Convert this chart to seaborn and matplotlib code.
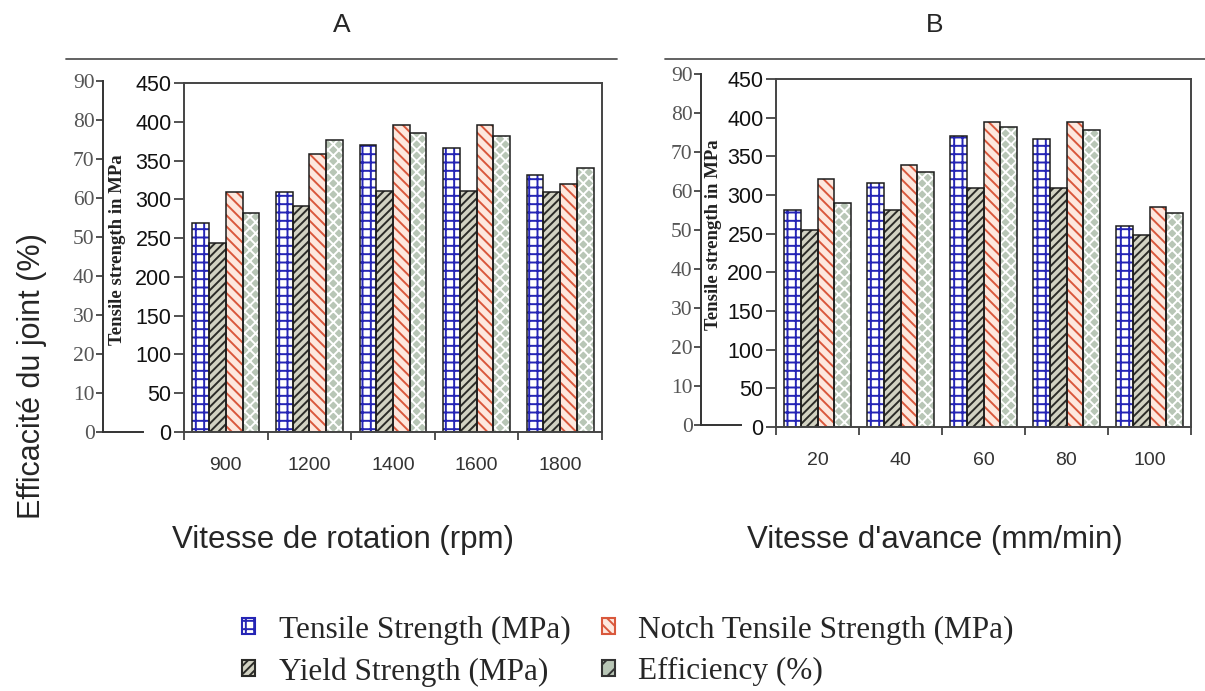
import numpy as np
import pandas as pd
import matplotlib
matplotlib.use("Agg")
import matplotlib.pyplot as plt
import seaborn as sns
from matplotlib.patches import Patch
from matplotlib.lines import Line2D

# ---------------- data ----------------
rot_speeds = ["900", "1200", "1400", "1600", "1800"]
rot_tensile = [269, 309, 370, 366, 332]
rot_yield = [244, 291, 311, 311, 309]
rot_notch = [309, 359, 396, 396, 320]
rot_eff = [56.4, 75.4, 77.2, 76.4, 68.2]

feed_rates = ["20", "40", "60", "80", "100"]
feed_tensile = [280, 316, 376, 372, 260]
feed_yield = [255, 280, 309, 309, 248]
feed_notch = [321, 339, 394, 394, 285]
feed_eff = [57.9, 65.9, 77.5, 76.9, 55.3]

series_names = ["Tensile Strength (MPa)", "Yield Strength (MPa)",
                "Notch Tensile Strength (MPa)", "Efficiency (%)"]
mpa_ticks = [0, 50, 100, 150, 200, 250, 300, 350, 400, 450]
eff_ticks = [0, 10, 20, 30, 40, 50, 60, 70, 80, 90]

# ---------------- style ----------------
sns.set_style("white")
plt.rcParams["font.family"] = ["Liberation Sans", "DejaVu Sans"]
plt.rcParams["hatch.linewidth"] = 1.4

W, H = 1205, 691
fig = plt.figure(figsize=(W / 100, H / 100), dpi=100)

face = ["#ffffff", "#d2d2c2", "#fde8de", "#b8c6b6"]
hatch_col = ["#2525b5", "#2b2b28", "#d9583c", "#ffffff"]
hatches = ["++", "////", "\\\\\\", "xxx"]


def frac_rect(x0, y0, x1, y1):
    return [x0 / W, 1 - y1 / H, (x1 - x0) / W, (y1 - y0) / H]


def panel(rect, outer_rect, cats, ts, ys, nts, eff, ylab_xy):
    scale = mpa_ticks[-1] / eff_ticks[-1]
    vals = [ts, ys, nts, [e * scale for e in eff]]
    df = pd.DataFrame({
        "cat": [c for _ in series_names for c in cats],
        "series": [s for s in series_names for _ in cats],
        "value": [v for vs in vals for v in vs],
    })
    ax = fig.add_axes(rect)
    sns.barplot(data=df, x="cat", y="value", hue="series", order=cats,
                hue_order=series_names, palette=face, saturation=1,
                width=0.8, linewidth=0, errorbar=None, legend=False, ax=ax)
    for cont, h, hc in zip(ax.containers, hatches, hatch_col):
        for p in cont:
            p.set_hatch(h)
            p.set_edgecolor(hc)
            p.set_linewidth(0)
    sns.barplot(data=df, x="cat", y="value", hue="series", order=cats,
                hue_order=series_names, palette=["#1c1c1c"] * 4, fill=False,
                saturation=1, width=0.8, linewidth=1.1, errorbar=None,
                legend=False, ax=ax)
    ax.set_xlim(-0.5, len(cats) - 0.5)
    ax.set_ylim(0, mpa_ticks[-1])
    ax.set_yticks(mpa_ticks)
    ax.set_yticklabels([str(t) for t in mpa_ticks], fontsize=15.5,
                       color="#111111")
    ax.set_xticks(range(len(cats)))
    ax.set_xticklabels(cats, fontsize=14, color="#333333")
    ax.set_xticks(np.arange(-0.5, len(cats), 1.0), minor=True)
    ax.tick_params(axis="x", which="major", length=0, pad=18)
    ax.tick_params(axis="x", which="minor", length=6, width=1.2,
                   direction="out", color="#333333", bottom=True)
    ax.tick_params(axis="y", length=7, width=1.2, direction="out",
                   color="#333333", left=True, pad=2)
    ax.set_xlabel("")
    ax.set_ylabel("")
    for s in ax.spines.values():
        s.set_visible(True)
        s.set_color("#444444")
        s.set_linewidth(1.4)
    ax.patch.set_alpha(0)

    ox = fig.add_axes(outer_rect)
    ox.set_ylim(0, eff_ticks[-1])
    ox.set_yticks(eff_ticks)
    ox.set_yticklabels([str(t) for t in eff_ticks],
                       family=["Liberation Serif"], fontsize=15.5,
                       color="#555555")
    ox.set_xticks([])
    ox.tick_params(axis="y", length=5, width=1.2, direction="out",
                   color="#333333", left=True, pad=1)
    for k in ["top", "right"]:
        ox.spines[k].set_visible(False)
    for k in ["left", "bottom"]:
        ox.spines[k].set_visible(True)
        ox.spines[k].set_color("#333333")
        ox.spines[k].set_linewidth(1.4)
    ox.patch.set_alpha(0)

    fig.text(ylab_xy[0] / W, 1 - ylab_xy[1] / H, "Tensile strength in MPa",
             rotation=90, ha="center", va="center", family="Liberation Serif",
             fontweight="bold", fontsize=13.5, color="#222222")
    return ax


panel(frac_rect(184, 83, 602, 432), frac_rect(103, 81, 143, 432),
      rot_speeds, rot_tensile, rot_yield, rot_notch, rot_eff, (117, 250))
panel(frac_rect(776, 79, 1191, 427), frac_rect(701, 74, 741, 425),
      feed_rates, feed_tensile, feed_yield, feed_notch, feed_eff, (713, 235))

# top separator lines
fig.add_artist(Line2D([66 / W, 617 / W], [1 - 59 / H] * 2, color="#555555", lw=1.3))
fig.add_artist(Line2D([665 / W, 1205 / W], [1 - 59 / H] * 2, color="#555555", lw=1.3))

fig.text(342 / W, 1 - 25 / H, "A", ha="center", va="center", fontsize=19)
fig.text(935 / W, 1 - 25 / H, "B", ha="center", va="center", fontsize=19)
fig.text(343 / W, 1 - 540 / H, "Vitesse de rotation (rpm)", ha="center",
         va="center", fontsize=22.5)
fig.text(935 / W, 1 - 540 / H, "Vitesse d'avance (mm/min)", ha="center",
         va="center", fontsize=22.5)
fig.text(32 / W, 1 - 376 / H, "Efficacité du joint (%)", ha="center",
         va="center", rotation=90, fontsize=22)

handles = [Patch(facecolor=f, edgecolor=hc if hc != "#ffffff" else "#333333",
                 hatch=h, linewidth=1.5)
           for f, h, hc in zip(face, hatches, hatch_col)]
handles[3] = Patch(facecolor=face[3], edgecolor="#333333", hatch="//", linewidth=1.5)
fig.legend(handles=handles, labels=series_names, ncol=2, loc="center",
           bbox_to_anchor=(628 / W, 1 - 651 / H), frameon=False,
           prop={"family": "Liberation Serif", "size": 22.5},
           handlelength=0.42, handleheight=0.42, handletextpad=0.75,
           columnspacing=1.0, labelspacing=0.4)

fig.savefig("out.png", dpi=100)
